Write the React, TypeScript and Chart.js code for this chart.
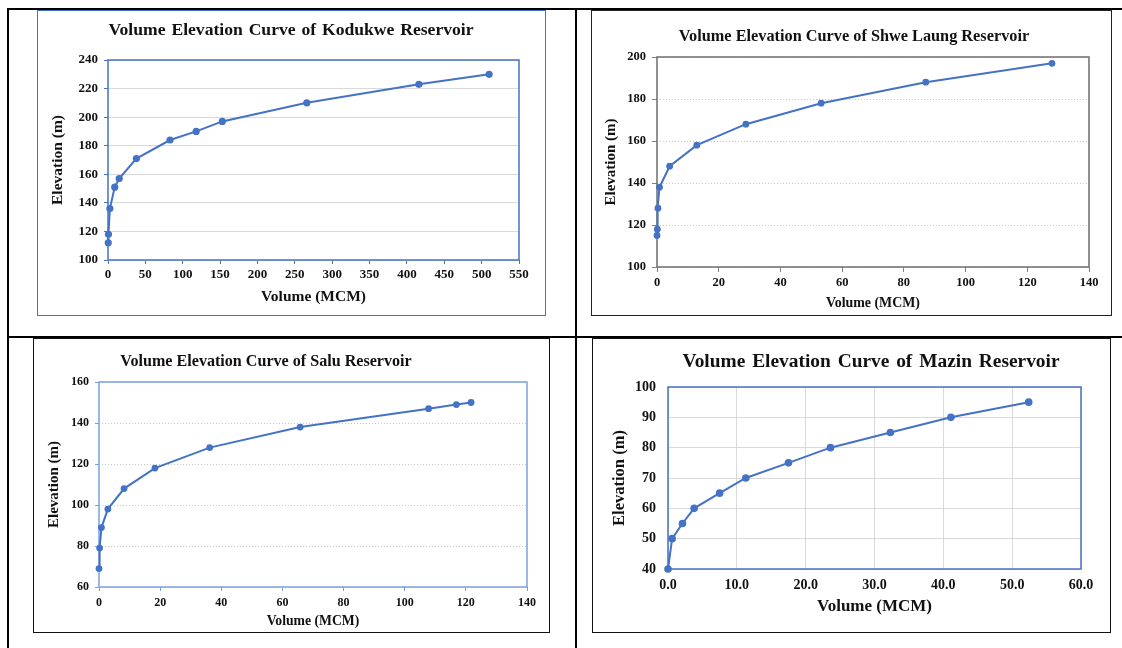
import React, { useEffect, useRef } from "react";
import { Chart, registerables } from "chart.js";

Chart.register(...registerables);

// ---------- Data ----------
const kodukweVolume = [0.3, 0.6, 2.5, 9, 15, 38, 83, 118, 153, 266, 416, 510];
const kodukweElevation = [112, 118, 136, 151, 157, 171, 184, 190, 197, 210, 223, 230];

const shweLaungVolume = [0, 0.1, 0.3, 0.8, 4.1, 12.9, 28.8, 53.2, 87.1, 128];
const shweLaungElevation = [115, 118, 128, 138, 148, 158, 168, 178, 188, 197];

const saluVolume = [0, 0.2, 0.8, 2.9, 8.2, 18.3, 36.2, 65.8, 107.8, 116.9, 121.7];
const saluElevation = [69, 79, 89, 98, 108, 118, 128, 138, 147, 149, 150];

const mazinVolume = [0, 0.6, 2.1, 3.8, 7.5, 11.3, 17.5, 23.6, 32.3, 41.1, 52.4];
const mazinElevation = [40, 50, 55, 60, 65, 70, 75, 80, 85, 90, 95];

const titles = [
  "Volume Elevation Curve of Kodukwe Reservoir",
  "Volume Elevation Curve of Shwe Laung Reservoir",
  "Volume Elevation Curve of Salu Reservoir",
  "Volume Elevation Curve of Mazin Reservoir",
];
const xAxisTitle = "Volume (MCM)";
const yAxisTitle = "Elevation (m)";

// ---------- Styling ----------
const SERIF = '"Liberation Serif", "Times New Roman", serif';
const BLUE = "#4472C4";

type Rect = { l: number; t: number; r: number; b: number };
type Spec = {
  box: Rect;
  boxColor: string;
  plot: Rect;
  title: string;
  titleX: number;
  titleY: number;
  titleSize: number;
  titleWordSpacing: number;
  xs: number[];
  ys: number[];
  xMin: number; xMax: number; xStep: number;
  yMin: number; yMax: number; yStep: number;
  xDecimals: number;
  tickFont: number;
  tickLen: number;
  xTickPad: number;
  yTickPad: number;
  tickColor: string;
  gridColor: string;
  gridDash: number[];
  xGridOnArea: boolean;
  frameColor: string;
  frameWidth: number;
  yTitleSize: number;
  yTitleCenter: number; // page x
  xTitleSize: number;
  xTitleCenter: number; // page y
  pointRadius: number;
};

const specs: Spec[] = [
  {
    box: { l: 37, t: 10, r: 545, b: 315 }, boxColor: BLUE,
    plot: { l: 108, t: 60, r: 519, b: 260 },
    title: titles[0], titleX: 291, titleY: 30, titleSize: 17.6, titleWordSpacing: 1.5,
    xs: kodukweVolume, ys: kodukweElevation,
    xMin: 0, xMax: 550, xStep: 50, yMin: 100, yMax: 240, yStep: 20, xDecimals: 0,
    tickFont: 13, tickLen: 4, xTickPad: 3, yTickPad: 6,
    tickColor: BLUE, gridColor: "#d9d9d9", gridDash: [], xGridOnArea: false,
    frameColor: BLUE, frameWidth: 1.5,
    yTitleSize: 15.5, yTitleCenter: 58, xTitleSize: 15.5, xTitleCenter: 297,
    pointRadius: 3.6,
  },
  {
    box: { l: 591, t: 10, r: 1111, b: 315 }, boxColor: "#222",
    plot: { l: 657, t: 57, r: 1089, b: 267 },
    title: titles[1], titleX: 854, titleY: 37, titleSize: 16.3, titleWordSpacing: 0,
    xs: shweLaungVolume, ys: shweLaungElevation,
    xMin: 0, xMax: 140, xStep: 20, yMin: 100, yMax: 200, yStep: 20, xDecimals: 0,
    tickFont: 12.5, tickLen: 5, xTickPad: 3.5, yTickPad: 6,
    tickColor: "#7f7f7f", gridColor: "#c8c8c8", gridDash: [1, 2], xGridOnArea: false,
    frameColor: "#6d6d6d", frameWidth: 1.5,
    yTitleSize: 15, yTitleCenter: 611, xTitleSize: 13.9, xTitleCenter: 303,
    pointRadius: 3.4,
  },
  {
    box: { l: 33, t: 338, r: 549, b: 632 }, boxColor: "#111",
    plot: { l: 99, t: 382, r: 527, b: 587 },
    title: titles[2], titleX: 266, titleY: 362, titleSize: 16.1, titleWordSpacing: 0,
    xs: saluVolume, ys: saluElevation,
    xMin: 0, xMax: 140, xStep: 20, yMin: 60, yMax: 160, yStep: 20, xDecimals: 0,
    tickFont: 12, tickLen: 4, xTickPad: 4.5, yTickPad: 6,
    tickColor: "#7aa0e0", gridColor: "#c8c8c8", gridDash: [1, 2], xGridOnArea: false,
    frameColor: "#7aa0e0", frameWidth: 1.5,
    yTitleSize: 15, yTitleCenter: 54, xTitleSize: 13.7, xTitleCenter: 621,
    pointRadius: 3.4,
  },
  {
    box: { l: 592, t: 338, r: 1110, b: 632 }, boxColor: "#111",
    plot: { l: 668, t: 387, r: 1081, b: 569 },
    title: titles[3], titleX: 871, titleY: 362, titleSize: 19.4, titleWordSpacing: 2,
    xs: mazinVolume, ys: mazinElevation,
    xMin: 0, xMax: 60, xStep: 10, yMin: 40, yMax: 100, yStep: 10, xDecimals: 1,
    tickFont: 14, tickLen: 0, xTickPad: 7.6, yTickPad: 12,
    tickColor: "#d9d9d9", gridColor: "#d9d9d9", gridDash: [], xGridOnArea: true,
    frameColor: BLUE, frameWidth: 1.5,
    yTitleSize: 16.5, yTitleCenter: 620, xTitleSize: 17, xTitleCenter: 607,
    pointRadius: 3.8,
  },
];

// ---------- Plugins ----------
const framePlugin = {
  id: "frame",
  beforeDatasetsDraw(chart: any, _args: any, opts: any) {
    const { left, top, right, bottom } = chart.chartArea;
    const ctx = chart.ctx;
    ctx.save();
    ctx.strokeStyle = opts.color;
    ctx.lineWidth = opts.width;
    ctx.strokeRect(left, top, right - left, bottom - top);
    ctx.restore();
  },
};

const boxTitlePlugin = {
  id: "boxTitle",
  afterDraw(chart: any, _args: any, opts: any) {
    const ctx = chart.ctx;
    ctx.save();
    ctx.font = `bold ${opts.size}px ${SERIF}`;
    if ("wordSpacing" in ctx) (ctx as any).wordSpacing = `${opts.wordSpacing || 0}px`;
    ctx.fillStyle = "#111";
    ctx.textAlign = "center";
    ctx.textBaseline = "middle";
    ctx.fillText(opts.text, opts.x, opts.y);
    ctx.restore();
  },
};

function ChartBox({ spec }: { spec: Spec }) {
  const ref = useRef<HTMLCanvasElement>(null);
  const cx = spec.box.l + 1;
  const cy = spec.box.t + 1;
  const cw = spec.box.r - spec.box.l - 1;
  const ch = spec.box.b - spec.box.t - 1;

  useEffect(() => {
    if (!ref.current) return;
    const tickFont = { family: SERIF, size: spec.tickFont, weight: "bold" as const };
    const yLH = spec.yTitleSize * 1.2;
    const xLH = spec.xTitleSize * 1.2;
    const yWidth = spec.plot.l - cx;
    const xHeight = cy + ch - spec.plot.b;
    const chart = new Chart(ref.current, {
      type: "scatter",
      data: {
        datasets: [
          {
            data: spec.xs.map((x, i) => ({ x, y: spec.ys[i] })),
            showLine: true,
            borderColor: BLUE,
            backgroundColor: BLUE,
            borderWidth: 2,
            pointRadius: spec.pointRadius,
            pointHoverRadius: spec.pointRadius,
            pointBorderWidth: 0,
            tension: 0,
            clip: false as any,
          },
        ],
      },
      options: {
        animation: false,
        responsive: false,
        maintainAspectRatio: false,
        events: [],
        layout: {
          padding: { left: 0, top: spec.plot.t - cy, right: cx + cw - spec.plot.r, bottom: 0 },
        },
        plugins: {
          legend: { display: false },
          tooltip: { enabled: false },
          title: { display: false },
          boxTitle: {
            text: spec.title,
            x: spec.titleX - cx,
            y: spec.titleY - cy,
            size: spec.titleSize,
            wordSpacing: spec.titleWordSpacing,
          },
          frame: { color: spec.frameColor, width: spec.frameWidth },
        } as any,
        scales: {
          x: {
            type: "linear",
            min: spec.xMin,
            max: spec.xMax,
            ticks: {
              stepSize: spec.xStep,
              font: tickFont,
              color: "#111",
              padding: spec.xTickPad,
              maxRotation: 0,
              autoSkip: false,
              callback: (v: any) => Number(v).toFixed(spec.xDecimals),
            },
            grid: {
              display: true,
              drawOnChartArea: spec.xGridOnArea,
              drawTicks: spec.tickLen > 0,
              tickLength: spec.tickLen,
              color: spec.gridColor,
              tickColor: spec.tickColor,
              lineWidth: 1,
            },
            border: { display: false },
            title: {
              display: true,
              text: xAxisTitle,
              color: "#111",
              font: { family: SERIF, size: spec.xTitleSize, weight: "bold" },
              padding: { top: 0, bottom: cy + ch - spec.xTitleCenter - xLH / 2 },
            },
            afterFit: (s: any) => {
              s.height = xHeight;
            },
          },
          y: {
            type: "linear",
            min: spec.yMin,
            max: spec.yMax,
            ticks: {
              stepSize: spec.yStep,
              font: tickFont,
              color: "#111",
              padding: spec.yTickPad,
              autoSkip: false,
            },
            grid: {
              display: true,
              drawOnChartArea: true,
              drawTicks: spec.tickLen > 0,
              tickLength: spec.tickLen,
              color: spec.gridColor,
              tickColor: spec.tickColor,
              lineWidth: 1,
            },
            border: { display: false, dash: spec.gridDash },
            title: {
              display: true,
              text: yAxisTitle,
              color: "#111",
              font: { family: SERIF, size: spec.yTitleSize, weight: "bold" },
              padding: { top: spec.yTitleCenter - cx - yLH / 2, bottom: 0 },
            },
            afterFit: (s: any) => {
              s.width = yWidth;
            },
          },
        },
      },
      plugins: [framePlugin, boxTitlePlugin],
    } as any);
    return () => chart.destroy();
  }, [spec]);

  return (
    <>
      <div
        style={{
          position: "absolute",
          left: spec.box.l,
          top: spec.box.t,
          width: spec.box.r - spec.box.l + 1,
          height: spec.box.b - spec.box.t + 1,
          border: `1px solid ${spec.boxColor}`,
          boxSizing: "border-box",
          background: "#fff",
        }}
      />
      <canvas
        ref={ref}
        width={cw}
        height={ch}
        style={{ position: "absolute", left: cx, top: cy, width: cw, height: ch }}
      />
    </>
  );
}

const line = (l: number, t: number, w: number, h: number) => (
  <div style={{ position: "absolute", left: l, top: t, width: w, height: h, background: "#000" }} />
);

export default function App() {
  return (
    <div
      style={{
        position: "fixed",
        left: 0,
        top: 0,
        width: 1122,
        height: 648,
        background: "#fff",
        overflow: "hidden",
      }}
    >
      {line(7, 8, 1115, 2)}
      {line(7, 8, 2, 640)}
      {line(575, 8, 2, 640)}
      {line(7, 336, 1115, 2)}
      {specs.map((s, i) => (
        <ChartBox key={i} spec={s} />
      ))}
    </div>
  );
}
